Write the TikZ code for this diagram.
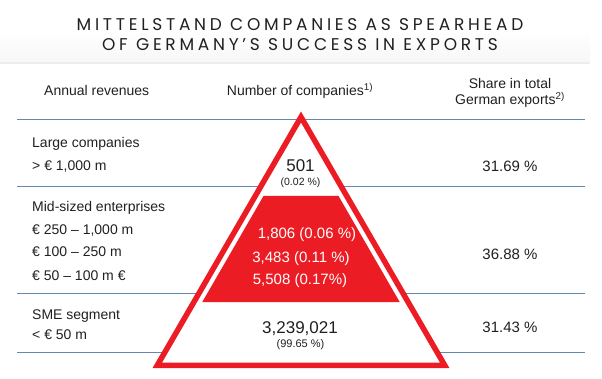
\documentclass[tikz,border=0pt]{standalone}
\usepackage{fontspec}
\setmainfont{Liberation Sans}
\newfontfamily\titlefont[LetterSpace=22]{Poppins}
\usetikzlibrary{calc}
\definecolor{pyramidRed}{HTML}{EC1C24}
\definecolor{ruleBlue}{HTML}{6488B0}
\definecolor{textDark}{HTML}{231F20}

\begin{document}
\begin{tikzpicture}[
            x=1pt, y=-1pt,
            txt/.style={inner sep=0pt, text=textDark, font=\fontsize{14}{16}\selectfont},
            rowlabel/.style={txt, anchor=base west},
            share/.style={txt, anchor=base, font=\fontsize{15}{17}\selectfont},
            count/.style={txt, anchor=base, font=\fontsize{17}{19}\selectfont},
            percent/.style={txt, anchor=base, font=\fontsize{10.5}{12}\selectfont},
            midcount/.style={inner sep=0pt, anchor=base, text=white, font=\fontsize{15}{17}\selectfont},
            heading/.style={inner sep=0pt, anchor=base, text=textDark, font=\titlefont\fontsize{17}{19}\selectfont},
            rule/.style={draw=ruleBlue, line width=0.9pt}
        ]
        \useasboundingbox (0,0) rectangle (602,379);

        % title band
        \shade[top color=white, bottom color=black!3] (0,30) rectangle (590,62);
        \draw[black!7, line width=1.5pt] (0,63) -- (590,63);
        \node[heading] (title1) at (300,31) {MITTELSTAND COMPANIES AS SPEARHEAD};
        \node[heading] (title2) at (300,51) {OF GERMANY’S SUCCESS IN EXPORTS};

        % column heads
        \node[txt, anchor=base west] (hrev) at (44,96) {Annual revenues};
        \node[txt, anchor=base] (hnum) at (300,96) {Number of companies\textsuperscript{1)}};
        \node[txt, anchor=base] (hshare1) at (510,89) {Share in total};
        \node[txt, anchor=base] (hshare2) at (510,105) {German exports\textsuperscript{2)}};

        % rules
        \foreach \y in {119,186,293.5,352}
            \draw[rule] (17,\y) -- (585,\y);

        % pyramid
        \coordinate (apex) at (301,117);
        \coordinate (baseL) at (157.3,365.3);
        \coordinate (baseR) at (444.7,365.3);
        \filldraw[fill=white, draw=pyramidRed, line width=5.5pt, line join=miter] (apex) -- (baseL) -- (baseR) -- cycle;
        \fill[pyramidRed] (263.5,196) -- (338.5,196) -- (399.7,302) -- (202.3,302) -- cycle;

        % left column
        \node[rowlabel] (large) at (32,148) {Large companies};
        \node[rowlabel] (largeRev) at (32,171) {> € 1,000 m};
        \node[rowlabel] (mid) at (32,212) {Mid-sized enterprises};
        \node[rowlabel] (midA) at (32,235) {€ 250 – 1,000 m};
        \node[rowlabel] (midB) at (32,257) {€ 100 – 250 m};
        \node[rowlabel] (midC) at (32,280) {€ 50 – 100 m €};
        \node[rowlabel] (sme) at (32,319) {SME segment};
        \node[rowlabel] (smeRev) at (32,339) {< € 50 m};

        % pyramid figures
        \node[count] (n501) at (300.5,172) {501};
        \node[percent] (p501) at (300.5,185.5) {(0.02 \%)};
        \node[midcount] (nA) at (307,239) {1,806 (0.06 \%)};
        \node[midcount] (nB) at (301,262) {3,483 (0.11 \%)};
        \node[midcount] (nC) at (300,284) {5,508 (0.17\%)};
        \node[count] (nSme) at (300,333) {3,239,021};
        \node[percent, font=\fontsize{11}{13}\selectfont] (pSme) at (300.5,347) {(99.65 \%)};

        % right column
        \node[share] (sLarge) at (510,172) {31.69 \%};
        \node[share] (sMid) at (510,260) {36.88 \%};
        \node[share] (sSme) at (510,332) {31.43 \%};
    \end{tikzpicture}
\end{document}
